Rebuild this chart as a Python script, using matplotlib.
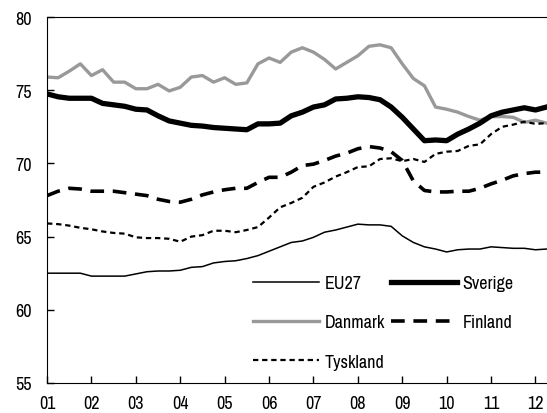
import numpy as np
import matplotlib
matplotlib.use("Agg")
import matplotlib.pyplot as plt

plt.rcParams['font.family'] = ['Archivo Narrow', 'DejaVu Sans']

# kvartal 2001K1 .. 2012K2
quarters = 2001 + np.arange(46) * 0.25

eu27 = [62.5, 62.5, 62.5, 62.5, 62.3, 62.3, 62.3, 62.3, 62.45, 62.6,
        62.65, 62.65, 62.7, 62.9, 62.95, 63.2, 63.3, 63.35, 63.5, 63.7,
        64.0, 64.3, 64.6, 64.7, 64.95, 65.3, 65.45, 65.65, 65.85, 65.8,
        65.8, 65.7, 65.05, 64.6, 64.3, 64.15, 63.95, 64.1, 64.15, 64.15,
        64.3, 64.25, 64.2, 64.2, 64.1, 64.15]
sverige = [74.75, 74.55, 74.45, 74.45, 74.45, 74.1, 74.0, 73.9, 73.7, 73.65,
           73.25, 72.9, 72.75, 72.6, 72.55, 72.45, 72.4, 72.35, 72.3, 72.7,
           72.7, 72.75, 73.25, 73.5, 73.85, 74.0, 74.4, 74.45, 74.55, 74.5,
           74.35, 73.85, 73.15, 72.35, 71.55, 71.6, 71.55, 72.0, 72.35, 72.75,
           73.25, 73.5, 73.65, 73.8, 73.65, 73.85]
danmark = [75.9, 75.85, 76.3, 76.8, 76.0, 76.4, 75.55, 75.55, 75.1, 75.1,
           75.4, 74.95, 75.2, 75.9, 76.0, 75.55, 75.85, 75.4, 75.5, 76.8,
           77.2, 76.9, 77.6, 77.9, 77.6, 77.1, 76.45, 76.9, 77.35, 78.0,
           78.1, 77.9, 76.8, 75.8, 75.3, 73.85, 73.7, 73.5, 73.2, 72.95,
           73.2, 73.2, 73.15, 72.8, 72.95, 72.75]
finland = [67.8, 68.1, 68.3, 68.25, 68.1, 68.1, 68.1, 68.0, 67.9, 67.8,
           67.55, 67.4, 67.35, 67.55, 67.85, 68.05, 68.2, 68.3, 68.3, 68.7,
           69.05, 69.05, 69.4, 69.85, 69.95, 70.2, 70.5, 70.7, 71.0, 71.15,
           71.05, 70.8, 70.2, 68.8, 68.15, 68.05, 68.05, 68.1, 68.1, 68.3,
           68.6, 68.85, 69.15, 69.3, 69.4, 69.4]
tyskland = [65.9, 65.85, 65.75, 65.6, 65.5, 65.35, 65.25, 65.2, 64.95, 64.9,
            64.9, 64.85, 64.65, 65.0, 65.1, 65.4, 65.4, 65.3, 65.45, 65.65,
            66.3, 67.0, 67.3, 67.65, 68.4, 68.7, 69.1, 69.4, 69.75, 69.8,
            70.3, 70.35, 70.15, 70.3, 70.1, 70.65, 70.8, 70.85, 71.2, 71.3,
            72.0, 72.5, 72.65, 72.85, 72.7, 72.75]

years = np.arange(2001, 2013)
year_labels = ["01", "02", "03", "04", "05", "06", "07", "08", "09", "10", "11", "12"]

fig = plt.figure(figsize=(5.47, 4.14), dpi=100)
ax = fig.add_axes([0.086, 0.0725, 0.914, 0.884])

l_eu, = ax.plot(quarters, eu27, color="black", lw=1.1, label="EU27")
l_dk, = ax.plot(quarters, danmark, color="#999999", lw=2.4, label="Danmark")
l_ty, = ax.plot(quarters, tyskland, color="black", lw=1.6, dashes=(2.4, 1.7), label="Tyskland")
l_fi, = ax.plot(quarters, finland, color="black", lw=2.6, dashes=(3.8, 2.4), label="Finland")
l_se, = ax.plot(quarters, sverige, color="black", lw=3.8, label="Sverige")

ax.set_xlim(2001, 2012.26)
ax.set_ylim(55, 80)
ax.set_xticks(years)
ax.set_xticklabels(year_labels)
ax.set_yticks([55, 60, 65, 70, 75, 80])
ax.tick_params(direction="in", length=5, width=1, labelsize=13)
ax.tick_params(axis="x", pad=8.5)
ax.tick_params(axis="y", pad=11)
ax.spines["right"].set_visible(False)

ax.legend(handles=[l_eu, l_dk, l_ty, l_se, l_fi],
          labels=["EU27", "Danmark", "Tyskland", "Sverige", "Finland"],
          ncol=2, frameon=False, fontsize=13, handlelength=3.65,
          handletextpad=0.3, columnspacing=0.35, labelspacing=1.28,
          borderpad=0, loc="lower left", bbox_to_anchor=(0.394, 0.012))

fig.savefig("out.png", dpi=100)
